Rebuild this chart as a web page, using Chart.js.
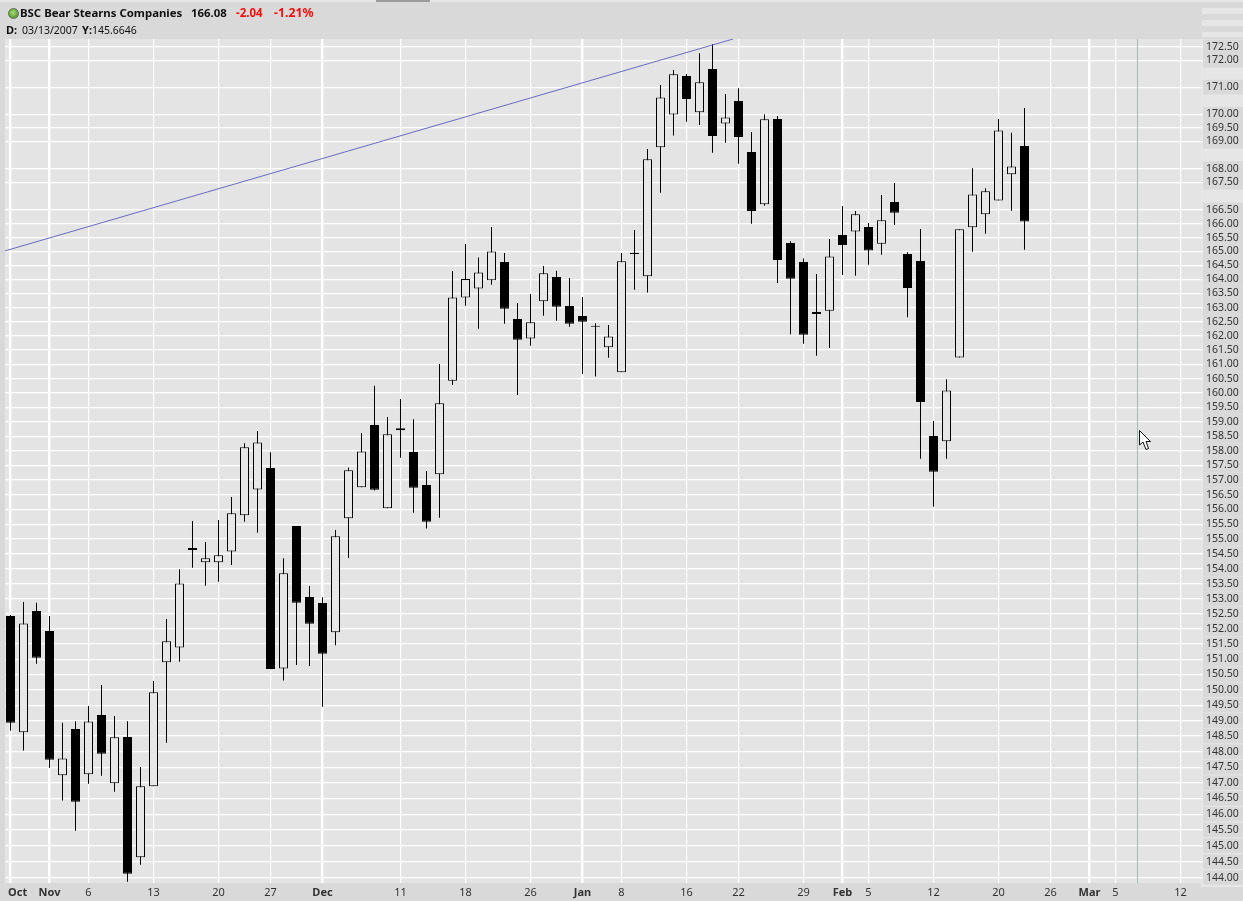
<!DOCTYPE html>
<html>
<head>
<meta charset="utf-8">
<title>BSC Bear Stearns Companies</title>
<script src="https://cdn.jsdelivr.net/npm/chart.js@4"></script>
<style>
html,body{margin:0;padding:0;background:#d9d9d9;width:1243px;height:901px;overflow:hidden}
#wrap{position:relative;width:1243px;height:901px;font-family:"Noto Sans",sans-serif;color:#111}
canvas{position:absolute;left:0;top:0}
.t{position:absolute;white-space:nowrap;font-size:10.5px;line-height:14px}
.h{font-size:11.4px;font-weight:700}
.b{font-weight:700;font-size:11px}
.r{color:#f01010;font-weight:700;font-size:11.5px}
.band{position:absolute;background:#e6e6e6}
#led{position:absolute;left:8px;top:8px;width:9px;height:9px;border-radius:50%;background:radial-gradient(circle at 45% 40%,#a8e070,#5f9a3a 70%);border:1px solid #5a6a50}
#cursor{position:absolute;left:1138px;top:429px}
</style>
</head>
<body>
<div id="wrap">
<canvas id="c" width="1243" height="901"></canvas>
<div class="band" style="left:0;top:0;width:1243px;height:2px"></div>
<div class="band" style="left:376px;top:0;width:54px;height:2px;background:#9a9a9a"></div>
<div class="band" style="left:1202px;top:8px;width:41px;height:6px"></div>
<div class="band" style="left:1202px;top:20px;width:41px;height:6px"></div>
<div class="band" style="left:1202px;top:32px;width:41px;height:5px"></div>
<div id="led"></div>
<div class="t h" style="left:20px;top:6px">BSC Bear Stearns Companies</div>
<div class="t h" style="left:191px;top:6px">166.08</div>
<div class="t r" style="left:236px;top:6px">-2.04</div>
<div class="t r" style="left:274px;top:6px;font-size:12.3px">-1.21%</div>
<div class="t b" style="left:6px;top:23px">D:</div>
<div class="t" style="left:22px;top:23px">03/13/2007</div>
<div class="t b" style="left:82px;top:23px">Y:</div>
<div class="t" style="left:92px;top:23px">145.6646</div>
<svg id="cursor" width="15" height="23" viewBox="0 0 15 23"><path d="M1.5 1.5 L1.5 16 L5 13 L8 20.5 L10.5 19.5 L8 12.5 L12.5 12.5 Z" fill="#fff" stroke="#111" stroke-width="1"/></svg>
</div>
<script>
const opens  = [152.43,148.62,152.59,151.93,147.24,148.73,147.27,149.18,146.98,148.47,144.64,146.89,150.90,151.39,154.70,154.22,154.22,154.58,155.80,156.68,157.41,150.70,155.44,153.06,152.86,151.89,155.70,156.75,158.89,156.04,158.78,157.96,156.83,157.20,160.43,163.36,163.68,163.97,164.62,162.59,161.91,163.22,164.09,163.05,162.70,162.32,161.60,160.72,164.91,164.11,168.78,169.99,171.42,170.07,171.68,169.65,170.49,168.61,166.70,169.82,165.30,164.62,162.84,162.89,165.59,165.72,165.88,165.28,166.78,164.91,164.66,158.51,158.33,161.24,165.87,166.34,166.84,167.79,168.83];
const highs  = [152.46,152.89,152.87,152.43,148.93,148.98,149.47,150.16,149.15,148.98,147.50,150.29,152.33,153.98,155.61,154.90,155.64,156.42,158.26,158.68,157.95,154.35,155.44,153.42,153.05,155.30,157.43,158.61,160.25,159.17,159.79,159.09,157.31,161.01,164.30,165.27,164.78,165.88,164.94,163.16,163.48,164.48,164.31,164.05,163.37,162.44,162.38,164.94,165.77,168.72,171.08,171.64,171.49,172.27,172.61,170.75,170.96,169.34,170.00,169.93,165.37,164.75,164.19,165.45,166.64,166.46,166.02,167.04,167.47,164.97,165.81,159.03,160.48,165.80,168.01,167.28,169.82,169.31,170.23];
const lows   = [148.67,148.03,150.85,147.48,146.43,145.47,146.97,147.22,146.71,143.87,144.40,146.89,148.28,150.92,154.03,153.43,153.57,154.13,155.58,155.21,150.67,150.30,150.81,150.78,149.45,151.46,154.36,156.75,156.64,156.04,157.76,155.89,155.35,155.72,160.28,163.06,162.25,163.81,162.43,159.93,161.65,162.71,162.53,162.32,160.66,160.57,161.23,160.72,163.63,163.53,167.12,169.21,169.72,169.60,168.58,168.95,168.18,166.00,166.65,163.87,162.06,161.72,161.30,161.57,164.16,164.13,164.52,164.88,165.95,162.66,157.73,156.09,157.73,161.24,164.99,165.64,166.84,166.47,165.06];
const closes = [148.93,152.18,151.05,147.74,147.78,146.39,148.97,147.93,148.46,144.12,146.89,149.92,151.59,153.51,154.63,154.35,154.45,155.87,158.12,158.29,150.68,153.85,152.87,152.17,151.18,155.09,157.33,157.98,156.67,158.57,158.71,156.74,155.58,159.64,163.36,164.01,164.25,165.00,162.96,161.86,162.48,164.22,163.03,162.43,162.50,162.36,161.98,164.65,164.95,168.34,170.62,171.48,170.56,171.18,169.19,169.88,169.16,166.46,169.81,164.69,164.02,162.04,162.77,164.82,165.23,166.34,165.03,166.12,166.39,163.69,159.69,157.28,160.09,165.80,167.06,167.17,169.40,168.08,166.08];

const yTickValues = [144,144.5,145,145.5,146,146.5,147,147.5,148,148.5,149,149.5,150,150.5,151,151.5,152,152.5,153,153.5,154,154.5,155,155.5,156,156.5,157,157.5,158,158.5,159,159.5,160,160.5,161,161.5,162,162.5,163,163.5,164,164.5,165,165.5,166,166.5,167.5,168,169,169.5,170,171,172,172.5];
const xTickPositions = [0,3,6,11,16,20,24,30,35,40,44,47,52,56,61,64,66,71,76,80,83,85,90];
const xTickLabels = ['     Oct','Nov','6','13','20','27','Dec','11','18','26','Jan','8','16','22','29','Feb','5','12','20','26','Mar','5','12'];
const monthLabels = ['     Oct','Nov','Dec','Jan','Feb','Mar'];
const trendX = [-0.42,55.58];
const trendY = [165.02,172.80];
const crossX = [86.69,86.69];
const yMin = 143.83, yMax = 172.80;
const xMin = -0.423, xMax = 91.731;

const isUp = i => closes[i] >= opens[i];
const paint = {
  id:'paint',
  beforeDraw(chart){
    const {ctx,chartArea:a}=chart;
    ctx.save();
    ctx.fillStyle='#e4e4e4';
    ctx.fillRect(a.left,a.top,a.right-a.left,a.bottom-a.top);
    ctx.fillStyle='#e6e6e6';
    ctx.fillRect(a.right-2,a.top,chart.width-a.right+2,a.bottom-a.top+4);
    ctx.restore();
  }
};

new Chart(document.getElementById('c'),{
  type:'bar',
  plugins:[paint],
  data:{datasets:[
    {type:'line',order:0,data:[{x:trendX[0],y:trendY[0]},{x:trendX[1],y:trendY[1]}],borderColor:'#6a6ac4',borderWidth:1,pointRadius:0,fill:false},
    {type:'line',order:0,data:[{x:crossX[0],y:yMin},{x:crossX[1],y:yMax}],borderColor:'#9dbcb5',borderWidth:1,pointRadius:0,fill:false},
    {order:1,grouped:false,barThickness:9,inflateAmount:0,borderSkipped:false,borderWidth:1,borderColor:'#000',
     backgroundColor:opens.map((o,i)=>isUp(i)?'#e7e7e7':'#000'),
     data:opens.map((o,i)=>({x:i,y:[o,closes[i]]}))},
    {order:2,grouped:false,barThickness:1,inflateAmount:0,borderSkipped:false,borderWidth:0,backgroundColor:'#000',
     data:lows.map((l,i)=>({x:i,y:[l,highs[i]]}))}
  ]},
  options:{
    responsive:false,animation:false,
    layout:{autoPadding:false,padding:{left:5,top:39,right:0,bottom:0}},
    plugins:{legend:{display:false},tooltip:{enabled:false},title:{display:false}},
    scales:{
      x:{type:'linear',position:'bottom',min:xMin,max:xMax,offset:false,bounds:'data',
        afterFit(s){s.height=18;s.paddingLeft=0;s.paddingRight=0},
        afterBuildTicks(s){s.ticks=xTickPositions.map(v=>({value:v}))},
        border:{display:false},
        grid:{offset:false,drawTicks:false,color:'#ffffff',
          lineWidth:c=>{const i=xTickPositions.indexOf(c.tick&&c.tick.value);return monthLabels.includes(xTickLabels[i])?2.4:1.2}},
        ticks:{autoSkip:false,maxRotation:0,minRotation:0,padding:3,color:'#333',
          font:c=>{const i=xTickPositions.indexOf(c.tick&&c.tick.value);const m=monthLabels.includes(xTickLabels[i]);return {family:'"Noto Sans"',size:11,weight:m?'bold':'normal'}},
          callback:v=>xTickLabels[xTickPositions.indexOf(v)]}
      },
      y:{type:'logarithmic',position:'right',min:yMin,max:yMax,bounds:'data',
        afterFit(s){s.width=40;s.paddingTop=0;s.paddingBottom=0},
        afterBuildTicks(s){s.ticks=yTickValues.map(v=>({value:v}))},
        border:{display:false},
        grid:{drawTicks:false,color:'#ffffff',lineWidth:1.2},
        ticks:{autoSkip:false,padding:3,color:'#333',font:{family:'"Noto Sans"',size:10.5},
          showLabelBackdrop:true,backdropColor:'#d9d9d9',backdropPadding:{left:3,right:5,top:1,bottom:1},
          callback:v=>Number(v).toFixed(2)}
      }
    }
  }
});
</script>
</body>
</html>
